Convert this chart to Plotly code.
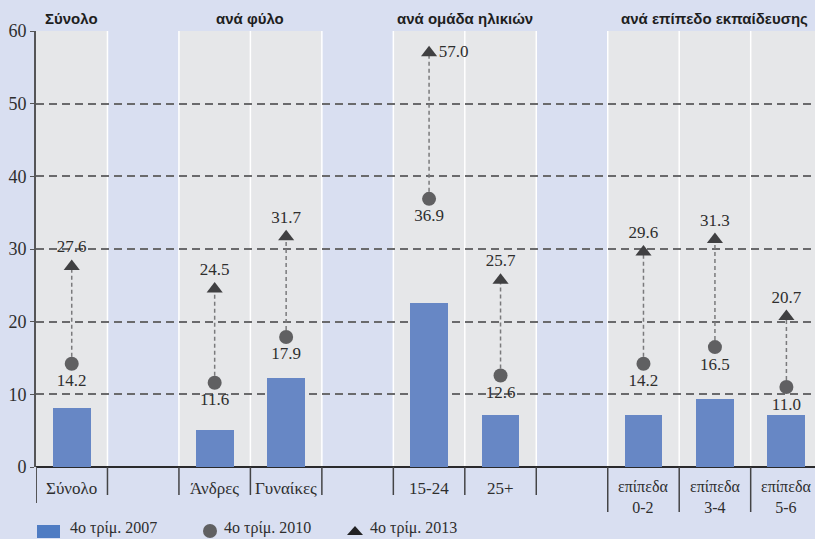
import plotly.graph_objects as go

# Category slots along the x axis ("" = empty spacer slot)
categories = ["Σύνολο", "", "Άνδρες", "Γυναίκες", "", "15-24", "25+", "",
              "επίπεδα<br>0-2", "επίπεδα<br>3-4", "επίπεδα<br>5-6"]
q4_2007 = [8.1, None, 5.1, 12.2, None, 22.6, 7.2, None, 7.2, 9.4, 7.2]
q4_2010 = [14.2, None, 11.6, 17.9, None, 36.9, 12.6, None, 14.2, 16.5, 11.0]
q4_2013 = [27.6, None, 24.5, 31.7, None, 57.0, 25.7, None, 29.6, 31.3, 20.7]
series_names = ["4ο τρίμ. 2007", "4ο τρίμ. 2010", "4ο τρίμ. 2013"]

# Group headers: (title, first slot, last slot)
groups = [("Σύνολο", 0, 0), ("ανά φύλο", 2, 3), ("ανά ομάδα ηλικιών", 5, 6),
          ("ανά επίπεδο εκπαίδευσης", 8, 10)]

y_ticks = [0, 10, 20, 30, 40, 50, 60]

BG = "#d9dff1"
PANEL = "#e6e7e9"
BAR = "#6787c5"
LEG_BAR = "#4f7cc3"
DOT = "#606062"
TRI = "#404042"
TXT = "#2e2e2e"
SERIF = "Liberation Serif"
SANS = "Liberation Sans"

W, H = 815, 539
ML, MT, MB, MR = 36, 31, 72, 0
PW, PH = W - ML - MR, H - MT - MB
X_MIN, X_MAX = -0.5, 10.4


def px_x(px):
    return (px - ML) / PW


def px_y(py):
    return (H - MB - py) / PH


idx = [i for i, c in enumerate(categories) if c]

fig = go.Figure()

# bars, 2007
fig.add_trace(go.Bar(
    x=idx, y=[q4_2007[i] for i in idx], width=0.53,
    marker=dict(color=BAR, line=dict(width=0)), name=series_names[0],
    hoverinfo="y"))

# dashed connectors 2010 -> 2013
cx, cy = [], []
for i in idx:
    cx += [i, i, None]
    cy += [q4_2010[i], q4_2013[i], None]
fig.add_trace(go.Scatter(x=cx, y=cy, mode="lines",
                         line=dict(color="#7a7a7c", width=1.5, dash="4px,3px"),
                         hoverinfo="skip"))

# 2010 dots
fig.add_trace(go.Scatter(
    x=idx, y=[q4_2010[i] for i in idx], mode="markers+text",
    marker=dict(symbol="circle", size=14, color=DOT),
    text=[f"{q4_2010[i]:.1f}" for i in idx], textposition="bottom center",
    textfont=dict(family=SERIF, size=17, color=TXT), name=series_names[1],
    cliponaxis=False))

# 2013 triangles
tri_pos = ["middle right" if q4_2013[i] > 50 else "top center" for i in idx]
fig.add_trace(go.Scatter(
    x=idx, y=[q4_2013[i] for i in idx], mode="markers+text",
    marker=dict(symbol="triangle-up", size=14, color=TRI),
    text=[f"{q4_2013[i]:.1f}" for i in idx], textposition=tri_pos,
    textfont=dict(family=SERIF, size=17, color=TXT), name=series_names[2],
    cliponaxis=False))

shapes = []
# grey panels behind the populated slots
for i in idx:
    shapes.append(dict(type="rect", xref="x", yref="paper", x0=i - 0.5, x1=i + 0.5,
                       y0=0, y1=1, fillcolor=PANEL, line=dict(width=0), layer="below"))
# white slot separators inside the plot, dark ones beneath the axis
for k in range(len(categories)):
    b = k + 0.5
    if b > X_MAX:
        continue
    shapes.append(dict(type="line", xref="x", yref="paper", x0=b, x1=b, y0=0, y1=1,
                       line=dict(color="white", width=1.5), layer="below"))
    two_line = "<br>" in categories[k] or (k + 1 < len(categories) and "<br>" in categories[k + 1])
    low = 512 if two_line else 495
    shapes.append(dict(type="line", xref="x", yref="paper", x0=b, x1=b, y0=0, y1=px_y(low),
                       line=dict(color="#444446", width=1.5)))
# axis extension below the zero line
shapes.append(dict(type="line", xref="x", yref="paper", x0=X_MIN, x1=X_MIN, y0=0, y1=px_y(503),
                   line=dict(color="#555557", width=2)))

# legend (drawn manually)
shapes.append(dict(type="rect", xref="paper", yref="paper", x0=px_x(37), x1=px_x(60),
                   y0=px_y(538), y1=px_y(525), fillcolor=LEG_BAR, line=dict(width=0)))
shapes.append(dict(type="circle", xref="paper", yref="paper", xsizemode="pixel", ysizemode="pixel",
                   xanchor=px_x(210), yanchor=px_y(531), x0=-7, x1=7, y0=-7, y1=7,
                   fillcolor=DOT, line=dict(width=0)))
shapes.append(dict(type="path", xref="paper", yref="paper", xsizemode="pixel", ysizemode="pixel",
                   xanchor=px_x(355), yanchor=px_y(531), path="M -8 -4 L 8 -4 L 0 5 Z",
                   fillcolor="#222224", line=dict(width=0)))

annotations = []
for (name, a, b) in groups:
    annotations.append(dict(text=f"<b>{name}</b>", xref="x", yref="paper", x=(a + b) / 2,
                            y=px_y(19), showarrow=False, xanchor="center", yanchor="middle",
                            font=dict(family=SANS, size=15, color="#1e1e1e")))
for name, lx in zip(series_names, [68, 222, 368]):
    annotations.append(dict(text=name, xref="paper", yref="paper", x=px_x(lx), y=px_y(528),
                            showarrow=False, xanchor="left", yanchor="middle",
                            font=dict(family=SERIF, size=16, color=TXT)))
# category labels under the axis
for k, cat in enumerate(categories):
    if not cat:
        continue
    two = "<br>" in cat
    annotations.append(dict(text=cat, xref="x", yref="paper", x=k,
                            y=px_y(497 if two else 488), showarrow=False,
                            xanchor="center", yanchor="middle",
                            font=dict(family=SERIF, size=16 if two else 17, color=TXT)))

fig.update_layout(
    width=W, height=H, margin=dict(l=ML, r=MR, t=MT, b=MB, pad=0),
    paper_bgcolor=BG, plot_bgcolor=BG, showlegend=False, bargap=0,
    shapes=shapes, annotations=annotations,
    xaxis=dict(range=[X_MIN, X_MAX], showticklabels=False, showgrid=False, zeroline=False,
               showline=False, ticks="", fixedrange=True),
    yaxis=dict(range=[0, 60], tickvals=y_ticks, showgrid=True, gridcolor="#6a6a6c",
               gridwidth=1.8, griddash="8px,5px", zeroline=True, zerolinecolor="#2a2a2c",
               zerolinewidth=1.6, showline=True, linecolor="#555557", linewidth=2,
               ticks="outside", ticklen=4, tickcolor="#555557",
               tickfont=dict(family=SERIF, size=18, color=TXT), fixedrange=True),
)

fig.write_html("out.html")
